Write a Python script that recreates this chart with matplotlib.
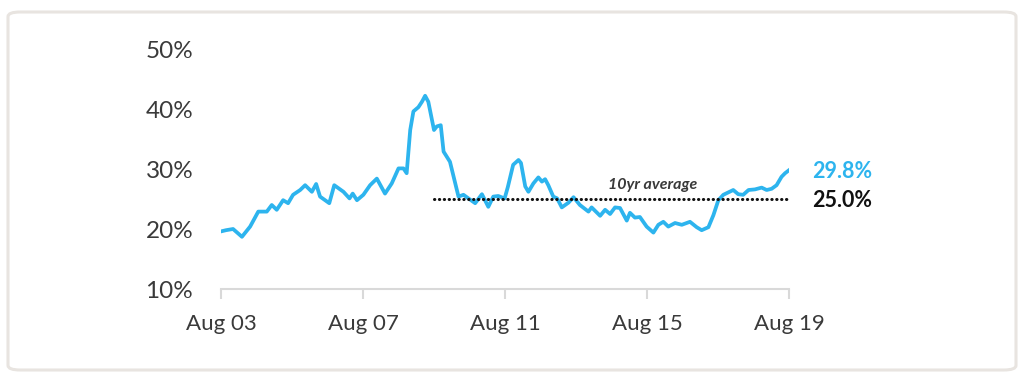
import matplotlib
matplotlib.use("Agg")
import matplotlib.pyplot as plt
from matplotlib.patches import FancyBboxPatch

plt.rcParams['font.family'] = ['Lato', 'DejaVu Sans']

# data: fractional year, value in %
years = [2003.58, 2003.72, 2003.92, 2004.17, 2004.40, 2004.63, 2004.87, 2005.01, 2005.15, 2005.33,
	2005.47, 2005.61, 2005.81, 2005.95, 2006.14, 2006.26, 2006.37, 2006.63, 2006.77, 2007.03,
	2007.20, 2007.29, 2007.41, 2007.59, 2007.78, 2007.97, 2008.20, 2008.39, 2008.58, 2008.72,
	2008.81, 2008.91, 2009.00, 2009.14, 2009.24, 2009.33, 2009.42, 2009.58, 2009.66, 2009.77,
	2009.85, 2010.03, 2010.27, 2010.41, 2010.55, 2010.74, 2010.93, 2011.11, 2011.25, 2011.39,
	2011.57, 2011.66, 2011.81, 2011.96, 2012.03, 2012.15, 2012.24, 2012.38, 2012.52, 2012.62,
	2012.71, 2012.80, 2012.94, 2013.05, 2013.18, 2013.37, 2013.51, 2013.69, 2013.93, 2014.02,
	2014.26, 2014.40, 2014.54, 2014.68, 2014.82, 2015.01, 2015.10, 2015.24, 2015.38, 2015.57,
	2015.76, 2015.90, 2016.04, 2016.18, 2016.37, 2016.56, 2016.79, 2016.98, 2017.12, 2017.31,
	2017.45, 2017.59, 2017.73, 2017.87, 2018.01, 2018.15, 2018.29, 2018.44, 2018.62, 2018.81,
	2018.95, 2019.09, 2019.23, 2019.37, 2019.47, 2019.58]
values = [19.6, 19.8, 20.0, 18.7, 20.4, 22.9, 22.9, 24.0, 23.2, 24.8,
	24.3, 25.7, 26.5, 27.3, 26.2, 27.5, 25.4, 24.3, 27.3, 26.2,
	25.1, 25.9, 24.8, 25.7, 27.3, 28.4, 25.9, 27.6, 30.1, 30.1,
	29.3, 36.5, 39.6, 40.3, 41.2, 42.2, 41.2, 36.5, 37.1, 37.3,
	32.9, 31.2, 25.4, 25.7, 25.1, 24.3, 25.8, 23.7, 25.4, 25.5,
	25.1, 27.0, 30.7, 31.5, 31.0, 27.1, 26.2, 27.6, 28.6, 27.9,
	28.3, 27.3, 25.4, 25.1, 23.6, 24.4, 25.3, 24.0, 22.9, 23.6,
	22.2, 23.2, 22.5, 23.6, 23.5, 21.4, 22.7, 21.9, 22.0, 20.4,
	19.4, 20.7, 21.2, 20.4, 21.0, 20.7, 21.2, 20.3, 19.8, 20.3,
	22.3, 24.8, 25.7, 26.1, 26.5, 25.8, 25.7, 26.5, 26.6, 26.9,
	26.5, 26.7, 27.3, 28.7, 29.3, 29.8]

avg_value = 25.0
avg_start = 2009.58
latest_label = "29.8%"
avg_label = "25.0%"

x_ticks = [2003.58, 2007.58, 2011.58, 2015.58, 2019.58]
x_tick_labels = ["Aug 03", "Aug 07", "Aug 11", "Aug 15", "Aug 19"]
y_ticks = [10, 20, 30, 40, 50]
y_tick_labels = ["10%", "20%", "30%", "40%", "50%"]

blue = "#2db4ee"
grey_text = "#3a3a3a"

fig = plt.figure(figsize=(10.24, 3.82), dpi=100)
fig.patch.set_facecolor("white")

# rounded frame around the whole chart
frame = FancyBboxPatch((8 / 1024, 12 / 382), 1008 / 1024, 358 / 382,
	boxstyle="round,pad=0,rounding_size=0.012", transform=fig.transFigure,
	facecolor="none", edgecolor="#e8e4e0", linewidth=2.2)
fig.patches.append(frame)

ax = fig.add_axes([221 / 1024, 93 / 382, 568 / 1024, 240 / 382])
ax.plot(years, values, color=blue, linewidth=2.7, solid_joinstyle="round")
ax.plot([avg_start, years[-1]], [avg_value, avg_value], color="#111111",
	linewidth=2.2, linestyle=(0, (0.1, 1.5)), dash_capstyle="round")

ax.set_xlim(x_ticks[0], x_ticks[-1])
ax.set_ylim(10, 50)
ax.set_xticks(x_ticks)
ax.set_xticklabels(x_tick_labels)
ax.set_yticks(y_ticks)
ax.set_yticklabels(y_tick_labels)

for side in ["top", "right", "left"]:
	ax.spines[side].set_visible(False)
ax.spines["bottom"].set_color("#d9d9d9")
ax.spines["bottom"].set_linewidth(1.5)
ax.tick_params(axis="x", colors="#d9d9d9", length=7, width=1.5, pad=11,
	labelcolor=grey_text, labelsize=16)
ax.tick_params(axis="y", length=0, pad=20, labelcolor=grey_text, labelsize=17.5)

ax.text(2015.75, 27.3, "10yr average", fontsize=11.5, style="italic",
	fontweight="bold", color=grey_text, ha="center", va="center")
ax.annotate(latest_label, xy=(x_ticks[-1], 29.6), xytext=(17, 0),
	textcoords="offset points", color=blue, fontsize=15.5, fontweight="bold",
	ha="left", va="center", annotation_clip=False)
ax.annotate(avg_label, xy=(x_ticks[-1], 24.8), xytext=(17, 0),
	textcoords="offset points", color="#111111", fontsize=15.5, fontweight="bold",
	ha="left", va="center", annotation_clip=False)

fig.savefig("out.png", dpi=100)
